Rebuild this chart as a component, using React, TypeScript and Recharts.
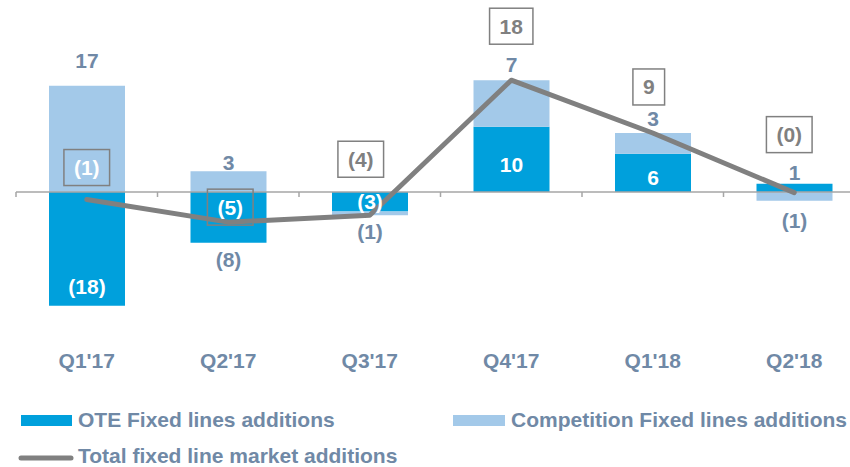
import React from "react";
import {
  ComposedChart,
  Bar,
  Line,
  XAxis,
  YAxis,
  ReferenceLine,
  LabelList,
} from "recharts";

const quarters = ["Q1'17", "Q2'17", "Q3'17", "Q4'17", "Q1'18", "Q2'18"];
const oteAdds = [-18.1, -8.1, -3.1, 10.4, 6.1, 1.3];
const competitionAdds = [16.9, 3.3, -0.6, 7.4, 3.3, -1.4];
const totalAdds = [-1.2, -4.8, -3.7, 17.8, 9.4, -0.1];

const data = quarters.map((q, i) => ({
  quarter: q,
  ote: oteAdds[i],
  competition: competitionAdds[i],
  total: totalAdds[i],
}));

// label placement tweaks (styling only)
const otePlacement = ["end", "below", "center", "center", "center", "above"];
const compGap = [25, 9, 16, 16, 14, 20];
const boxDx = [0, 2, -9, 0, -4, -5];
const boxDy = [-32, -15, -56, -54, -46, -58];
const boxOnBar = [true, true, false, false, false, false];

const FONT = "'Liberation Sans', Arial, sans-serif";
const TEXT = "#7089a6";
const DARK = "#00a0dc";
const LIGHT = "#a3c9e9";
const GREY = "#808080";

const fmt = (v: number) => {
  const r = Math.abs(Math.round(v));
  return v < 0 ? `(${r})` : `${r}`;
};

const textWidth = (s: string) =>
  s.split("").reduce((w, c) => w + (c === "(" || c === ")" ? 0.333 : 0.556), 0) * 21;

const Txt = ({ x, y, fill, children }: any) => (
  <text
    x={x}
    y={y}
    fill={fill}
    textAnchor="middle"
    dominantBaseline="central"
    fontFamily={FONT}
    fontWeight="bold"
    fontSize={21}
  >
    {children}
  </text>
);

const OteLabel = (props: any) => {
  const { x, y, width, height, index } = props;
  const v = oteAdds[index];
  const top = Math.min(y, y + height);
  const bottom = Math.max(y, y + height);
  const cx = x + width / 2;
  const mode = otePlacement[index];
  let ty = (top + bottom) / 2 + (v > 0 ? 5 : 0);
  let fill = "#fff";
  if (mode === "end") ty = v < 0 ? bottom - 19 : top + 19;
  if (mode === "below") {
    ty = bottom + 17;
    fill = TEXT;
  }
  if (mode === "above") {
    ty = top - 11;
    fill = TEXT;
  }
  return <Txt x={cx} y={ty} fill={fill}>{fmt(v)}</Txt>;
};

const CompLabel = (props: any) => {
  const { x, y, width, height, index } = props;
  const v = competitionAdds[index];
  const top = Math.min(y, y + height);
  const bottom = Math.max(y, y + height);
  const ty = v < 0 ? bottom + compGap[index] : top - compGap[index];
  return <Txt x={x + width / 2} y={ty} fill={TEXT}>{fmt(v)}</Txt>;
};

const TotalLabel = (props: any) => {
  const { x, y, index } = props;
  const s = fmt(totalAdds[index]);
  const w = textWidth(s) + 20;
  const cx = x + boxDx[index];
  const cy = y + boxDy[index];
  return (
    <g>
      <rect x={cx - w / 2} y={cy - 18} width={w} height={36} fill="none" stroke={GREY} strokeWidth={1.5} />
      <Txt x={cx} y={cy} fill={boxOnBar[index] ? "#fff" : GREY}>{s}</Txt>
    </g>
  );
};

const ZeroAxis = (props: any) => {
  const { x1, x2, y1 } = props;
  const step = (x2 - x1) / quarters.length;
  return (
    <g>
      <line x1={x1} x2={x2} y1={y1} y2={y1} stroke="#a6a6a6" strokeWidth={1.5} />
      {quarters.map((q, i) => (
        <line key={q} x1={x1 + i * step} x2={x1 + i * step} y1={y1} y2={y1 + 5} stroke="#a6a6a6" strokeWidth={1.5} />
      ))}
    </g>
  );
};

const QuarterTick = ({ x, y, payload }: any) => (
  <Txt x={x} y={y + 9} fill={TEXT}>{payload.value}</Txt>
);

export default function App() {
  return (
    <div style={{ position: "absolute", left: 0, top: 0, width: 850, height: 467, overflow: "hidden", background: "#fff" }}>
      <ComposedChart
        width={880}
        height={467}
        data={data}
        stackOffset="sign"
        margin={{ top: 35, right: 15, left: 16, bottom: 88 }}
      >
        <XAxis
          dataKey="quarter"
          height={30}
          axisLine={false}
          tickLine={false}
          tickSize={0}
          tick={<QuarterTick />}
          interval={0}
        />
        <YAxis hide domain={[-25, 25]} allowDataOverflow />
        <Bar dataKey="ote" stackId="a" fill={DARK} barSize={76} isAnimationActive={false}>
          <LabelList content={<OteLabel />} />
        </Bar>
        <Bar dataKey="competition" stackId="a" fill={LIGHT} barSize={76} isAnimationActive={false}>
          <LabelList content={<CompLabel />} />
        </Bar>
        <ReferenceLine y={0} shape={<ZeroAxis />} />
        <Line
          dataKey="total"
          type="linear"
          stroke={GREY}
          strokeWidth={5}
          strokeLinejoin="round"
          strokeLinecap="round"
          dot={false}
          isAnimationActive={false}
        >
          <LabelList content={<TotalLabel />} />
        </Line>
      </ComposedChart>
      <svg width={850} height={467} style={{ position: "absolute", left: 0, top: 0, pointerEvents: "none" }}>
        <g fontFamily={FONT} fontWeight="bold" fontSize={21} fill={TEXT}>
          <rect x={21} y={415} width={51} height={11} fill={DARK} />
          <text x={78} y={427}>OTE Fixed lines additions</text>
          <rect x={453} y={415} width={52} height={11} fill={LIGHT} />
          <text x={511} y={427}>Competition Fixed lines additions</text>
          <line x1={21} x2={71} y1={458} y2={458} stroke={GREY} strokeWidth={5} strokeLinecap="round" />
          <text x={78} y={463}>Total fixed line market additions</text>
        </g>
      </svg>
    </div>
  );
}
